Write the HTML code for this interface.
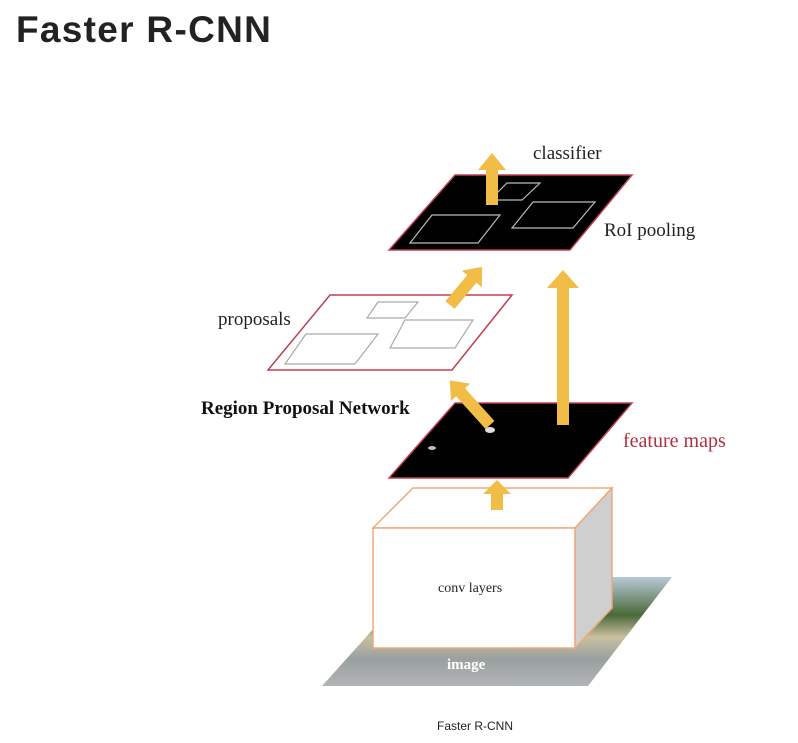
<!DOCTYPE html><html><head><style>
body{margin:0;width:798px;height:743px;background:#fff;overflow:hidden;position:relative;font-family:"Liberation Sans",sans-serif}
h1{position:absolute;left:16px;top:9px;margin:0;font-size:37px;font-weight:bold;color:#222;letter-spacing:1.3px}
.t{position:absolute;font-family:"Liberation Serif",serif;white-space:nowrap}
</style></head><body>
<h1>Faster R-CNN</h1>
<svg width="798" height="743" style="position:absolute;left:0;top:0">
<defs><linearGradient id="im" x1="0" y1="0" x2="0" y2="1">
<stop offset="0" stop-color="#b8c8d8"/><stop offset="0.35" stop-color="#4a6a3a"/><stop offset="0.55" stop-color="#c8c0a0"/><stop offset="0.75" stop-color="#9aa0a0"/><stop offset="1" stop-color="#b0b4b4"/></linearGradient></defs>
<polygon points="420,577 672,577 588,686 322,686" fill="url(#im)"/>
<polygon points="373,528 413,488 612,488 575,528" fill="#fff" stroke="#f0a878" stroke-width="1.5"/>
<polygon points="575,528 612,488 612,608 575,648" fill="#cfcfcf" stroke="#f0a878" stroke-width="1.5"/>
<rect x="373" y="528" width="202" height="120" fill="#fff" stroke="#f0a878" stroke-width="1.5"/>
<polygon points="455,403 632,403 568,478 389,478" fill="#000" stroke="#c04050" stroke-width="1.5"/>
<ellipse cx="490" cy="430" rx="5" ry="3" fill="#ddd"/><ellipse cx="432" cy="448" rx="4" ry="2" fill="#bbb"/>
<polygon points="330,295 512,295 452,370 268,370" fill="#fff" stroke="#c04050" stroke-width="1.5"/>
<g fill="none" stroke="#aaa" stroke-width="1.2">
<polygon points="378,302 418,302 405,318 367,318"/>
<polygon points="306,334 378,334 355,364 285,364"/>
<polygon points="405,320 473,320 455,348 390,348"/>
</g>
<polygon points="455,175 632,175 570,250 389,250" fill="#000" stroke="#c04050" stroke-width="1.5"/>
<g fill="none" stroke="#bbb" stroke-width="1.2">
<polygon points="432,215 500,215 478,243 410,243"/>
<polygon points="533,202 595,202 573,228 512,228"/>
<polygon points="507,183 540,183 522,200 490,200"/>
</g>
<g fill="#f2bd46">
<polygon points="486,205 498,205 498,170 506,170 492,153 478,170 486,170"/>
<polygon points="557,425 569,425 569,288 579,288 563,270 547,288 557,288"/>
<polygon points="491,510 503,510 503,494 511,494 497,480 483,494 491,494"/>
<g transform="translate(450,305) rotate(-50)"><polygon points="0,-6 34,-6 34,-13 50,0 34,13 34,6 0,6"/></g>
<g transform="translate(490,425) rotate(-132)"><polygon points="0,-6 44,-6 44,-13 60,0 44,13 44,6 0,6"/></g>
</g>
</svg>
<div class="t" style="left:533px;top:143px;font-size:19px;color:#222">classifier</div>
<div class="t" style="left:604px;top:220px;font-size:19px;color:#222">RoI pooling</div>
<div class="t" style="left:218px;top:309px;font-size:19px;color:#222">proposals</div>
<div class="t" style="left:201px;top:398px;font-size:19px;font-weight:bold;color:#111">Region Proposal Network</div>
<div class="t" style="left:623px;top:430px;font-size:20px;color:#b03040">feature maps</div>
<div class="t" style="left:438px;top:581px;font-size:14px;color:#222">conv layers</div>
<div class="t" style="left:447px;top:657px;font-size:15px;font-weight:bold;color:#fff">image</div>
<div style="position:absolute;left:437px;top:719px;font-size:12px;color:#222">Faster R-CNN</div>
</body></html>
